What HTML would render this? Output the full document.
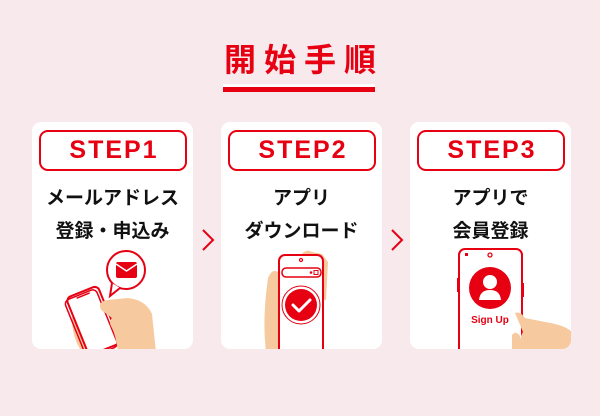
<!DOCTYPE html>
<html><head><meta charset="utf-8"><style>
*{margin:0;padding:0;box-sizing:border-box}
body{width:600px;height:416px;background:#f8e9ed;position:relative;overflow:hidden;font-family:"Liberation Sans","Noto Sans CJK JP",sans-serif}
.t{position:absolute;left:0;width:600px;top:38px;text-align:center;color:#e60012;font-size:32px;font-weight:bold;letter-spacing:8px;padding-left:8px;line-height:40px;font-family:"Noto Sans CJK JP",sans-serif}
.ul{position:absolute;left:223px;width:152px;top:84px;height:3px;background:#fff}
.ul2{position:absolute;left:223px;width:152px;top:87px;height:5px;background:#e60012}
.card{position:absolute;top:122px;width:161px;height:227px;background:#fff;border-radius:9px;overflow:hidden}
.pill{position:absolute;left:7px;top:8px;width:148px;height:41px;border:2px solid #e60012;border-radius:9px;color:#e60012;font-weight:bold;font-size:25px;text-align:center;line-height:37px;letter-spacing:2px;padding-left:2px}
.tx{position:absolute;left:0;width:161px;top:58px;text-align:center;font-size:19px;font-weight:bold;line-height:33px;color:#111;font-family:"Noto Sans CJK JP",sans-serif}
svg{position:absolute;left:0;top:0}
</style></head><body>
<div class="t">開始手順</div>
<div class="ul"></div><div class="ul2"></div>

<div class="card" style="left:32px"><div class="pill">STEP1</div><div class="tx">メールアドレス<br>登録・申込み</div></div>
<div class="card" style="left:221px"><div class="pill">STEP2</div><div class="tx">アプリ<br>ダウンロード</div></div>
<div class="card" style="left:410px"><div class="pill">STEP3</div><div class="tx">アプリで<br>会員登録</div></div>

<svg width="600" height="416" viewBox="0 0 600 416">
<defs><clipPath id="c1"><rect x="32" y="122" width="161" height="227" rx="9"/></clipPath>
<clipPath id="c2"><rect x="221" y="122" width="161" height="227" rx="9"/></clipPath>
<clipPath id="c3"><rect x="410" y="122" width="161" height="227" rx="9"/></clipPath></defs>
<polyline points="203,230 213,240 203,250" fill="none" stroke="#e60012" stroke-width="2"/>
<polyline points="392,230 402,240 392,250" fill="none" stroke="#e60012" stroke-width="2"/>

<g clip-path="url(#c1)">
<path d="M72,318 Q76,306 86,318 L104,342 L112,352 L82,352 Q72,338 72,318Z" fill="#f6c99e"/>
<g transform="rotate(-22 92 320)">
<rect x="76" y="290" width="34" height="62" rx="5" fill="#fff" stroke="#e60012" stroke-width="2"/>
<rect x="73" y="292" width="34" height="62" rx="5" fill="none" stroke="#e60012" stroke-width="1.5"/>
<line x1="86" y1="294" x2="100" y2="294" stroke="#e60012" stroke-width="1.5"/>
</g>
<path d="M100,306 Q100,301 108,300 L128,298 Q146,300 152,314 L156,352 L118,352 Q116,336 112,328 Q108,322 112,318 L104,312 Q100,310 100,306Z" fill="#f6c99e"/>
<circle cx="126" cy="270" r="19" fill="#fff" stroke="#e60012" stroke-width="2"/>
<path d="M112,283 L110,296 L120,288" fill="#fff" stroke="#e60012" stroke-width="2"/>
<rect x="116" y="262" width="21" height="16" rx="2" fill="#e60012"/>
<polyline points="116,264 126.5,271 137,264" fill="none" stroke="#fff" stroke-width="1.5"/>
</g>

<g clip-path="url(#c2)">
<path d="M268,278 Q272,268 278,272 L282,352 L266,352 Q262,320 268,278Z" fill="#f6c99e"/>
<path d="M300,256 Q306,248 312,252 L322,254 L328,262 L326,300 L318,300Z" fill="#f6c99e"/>
<rect x="279" y="255" width="44" height="100" rx="6" fill="#fff" stroke="#e60012" stroke-width="2"/>
<circle cx="301" cy="260" r="1.5" fill="none" stroke="#e60012" stroke-width="1.2"/>
<rect x="282" y="268" width="39" height="9" rx="4" fill="#fff" stroke="#e60012" stroke-width="1.5"/>
<circle cx="311" cy="272.5" r="1.3" fill="#e60012"/><rect x="314" y="270.5" width="4" height="4" fill="none" stroke="#e60012" stroke-width="1"/>
<circle cx="301" cy="305" r="19" fill="#fff" stroke="#e60012" stroke-width="1"/>
<circle cx="301" cy="305" r="16" fill="#e60012"/>
<polyline points="293,305 299,311 310,300" fill="none" stroke="#fff" stroke-width="3" stroke-linecap="round" stroke-linejoin="round"/>
</g>

<g clip-path="url(#c3)">
<rect x="459" y="249" width="63" height="106" rx="6" fill="#fff" stroke="#e60012" stroke-width="2"/>
<rect x="457" y="278" width="3" height="14" fill="#e60012"/>
<rect x="521" y="283" width="3" height="14" fill="#e60012"/>
<circle cx="490" cy="255" r="2" fill="none" stroke="#e60012" stroke-width="1.3"/>
<rect x="465" y="253" width="3" height="3" fill="#e60012"/>
<circle cx="490" cy="288" r="21" fill="#e60012"/>
<circle cx="490" cy="282" r="7" fill="#fff"/>
<path d="M479,300 Q480,290 490,290 Q500,290 501,300Z" fill="#fff"/>
<rect x="468" y="311" width="47" height="16" fill="#fff"/>
<text x="490" y="323" text-anchor="middle" font-family="Liberation Sans,sans-serif" font-weight="bold" font-size="10" fill="#e60012">Sign Up</text>
<path d="M515,313 Q520,311 525,318 L545,322 Q565,325 572,332 L572,352 L520,352 Q518,340 523,332Z" fill="#f6c99e"/>
<path d="M512,335 Q516,330 520,336 L520,352 L512,352Z" fill="#f6c99e"/>
</g>
</svg>
</body></html>
